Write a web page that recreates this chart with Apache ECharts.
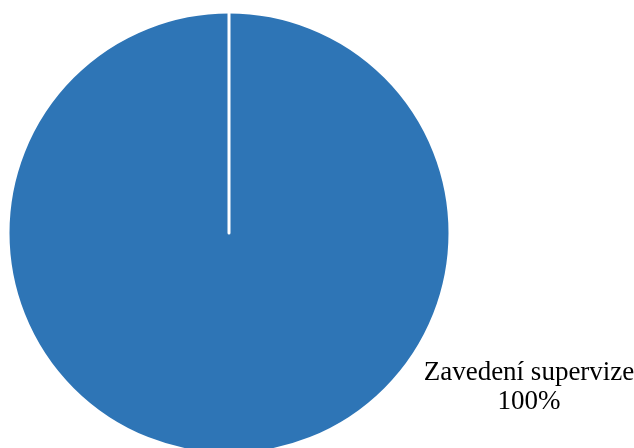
<!DOCTYPE html>
<html>
<head>
<meta charset="utf-8">
<script src="https://cdn.jsdelivr.net/npm/echarts@6/dist/echarts.min.js"></script>
<style>
  html, body { margin: 0; padding: 0; background: #ffffff; }
  #chart { width: 634px; height: 448px; }
</style>
</head>
<body>
<div id="chart"></div>
<script>
// Share of answers, in percent
const categories = ['Zavedení supervize', ''];
const values = [100, 0];

const chart = echarts.init(document.getElementById('chart'), null, { renderer: 'canvas' });

const data = categories.map((name, i) => ({
  name: name,
  value: values[i],
  label: { show: values[i] > 0 },
  labelLine: { show: false }
}));

chart.setOption({
  animation: false,
  backgroundColor: '#ffffff',
  series: [{
    type: 'pie',
    center: [229, 233],
    radius: 221,
    startAngle: 90,
    clockwise: true,
    avoidLabelOverlap: false,
    silent: true,
    data: data,
    itemStyle: {
      color: '#2E75B6',
      borderColor: '#ffffff',
      borderWidth: 3
    },
    label: {
      position: 'outside',
      formatter: '{b}\n{c}%',
      fontFamily: 'Liberation Serif',
      fontSize: 27,
      lineHeight: 29,
      color: '#000000',
      align: 'center'
    },
    labelLine: { show: false },
    labelLayout: function () {
      return { x: 529, y: 387, align: 'center', verticalAlign: 'middle' };
    }
  }]
});
</script>
</body>
</html>
